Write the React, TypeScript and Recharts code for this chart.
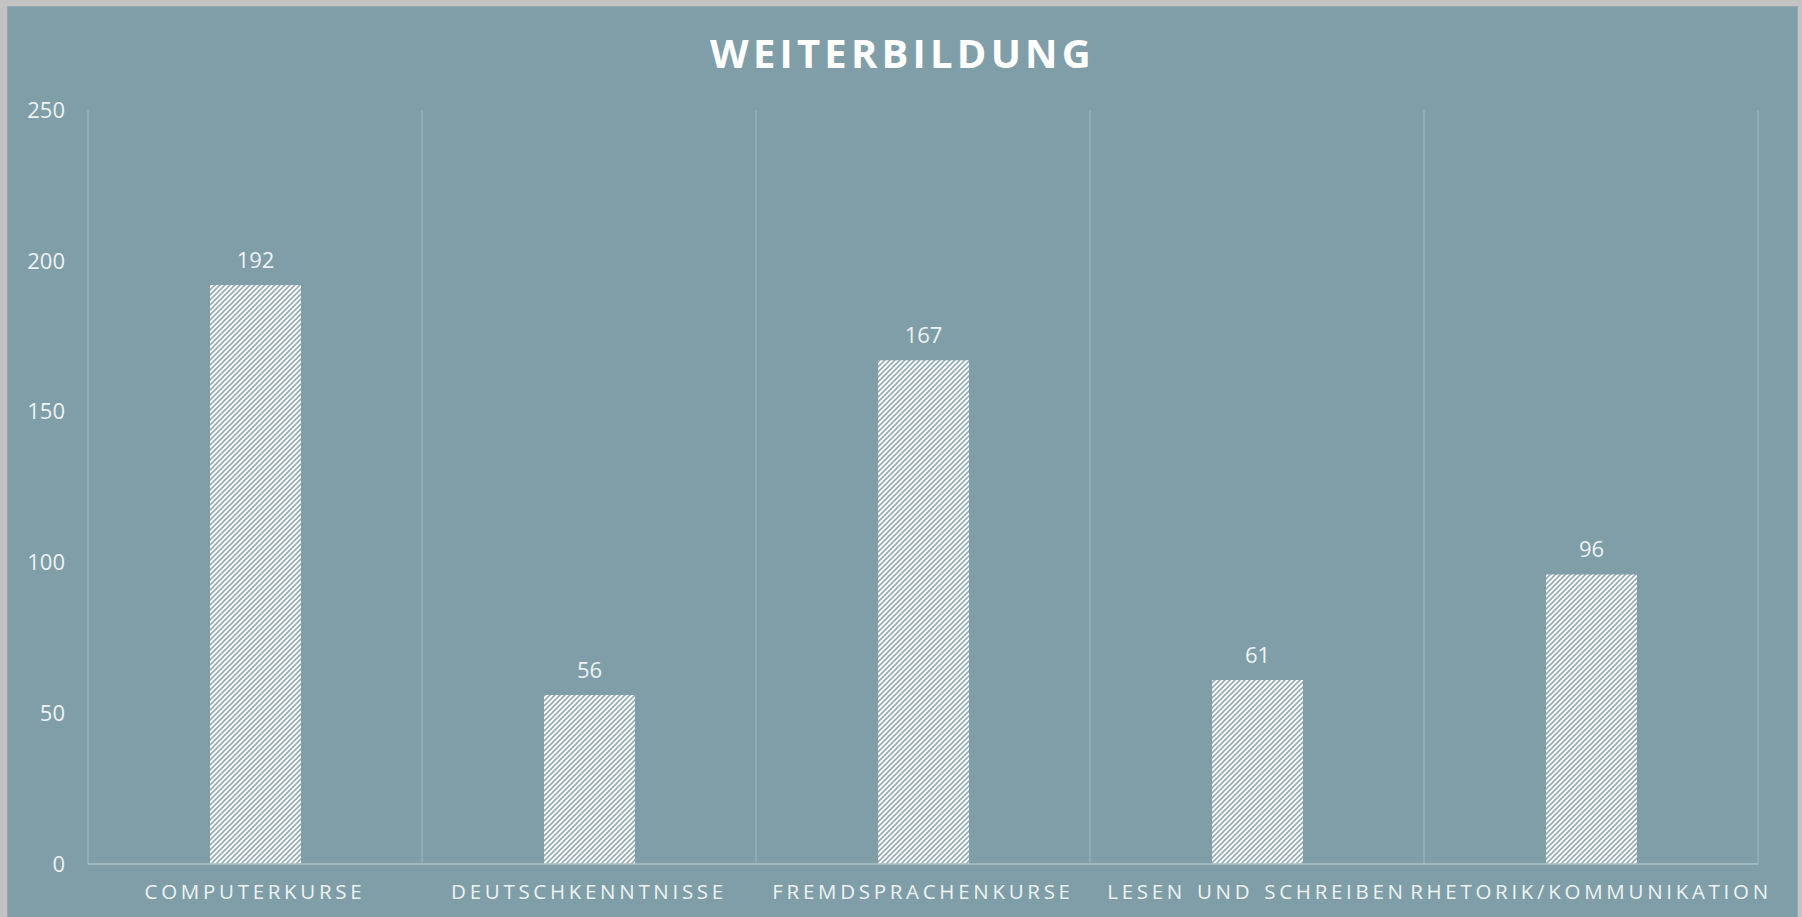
import { Bar, BarChart, CartesianGrid, LabelList, XAxis, YAxis } from "recharts";

const CATEGORIES = ["COMPUTERKURSE", "DEUTSCHKENNTNISSE", "FREMDSPRACHENKURSE", "LESEN UND SCHREIBEN", "RHETORIK/KOMMUNIKATION"];
const VALUES = [192, 56, 167, 61, 96];
const Y_TICKS = [0, 50, 100, 150, 200, 250];
const GRID_TICKS = [0, 1, 2, 3, 4, 5];

const BG = "#7f9ea8";
const FONT = "'Open Sans', 'Noto Sans', sans-serif";

const data = CATEGORIES.map((name, i) => ({ name, value: VALUES[i], idx: i + 0.5 }));

function CategoryTick(props: any) {
  const { x, y, payload } = props;
  return (
    <text x={x} y={y} dy={27} textAnchor="middle" fill="#eef3f4" fontSize={20.5} fontFamily={FONT} letterSpacing={3.7} wordSpacing={2}>
      {payload.value}
    </text>
  );
}

export default function App() {
  return (
    <div style={{ position: "fixed", inset: 0, background: "#c3c3c3" }}>
      <div style={{ position: "absolute", left: 8, top: 7, width: 1789, height: 910, background: BG, boxShadow: "0 0 0 1px #9aa9ae" }}>
        <div
          style={{
            position: "absolute",
            left: 0,
            right: 0,
            top: 21,
            textAlign: "center",
            color: "#ffffff",
            fontFamily: FONT,
            fontWeight: 700,
            fontSize: 40,
            letterSpacing: 4.2,
            lineHeight: "50px",
          }}
        >
          WEITERBILDUNG
        </div>
        <BarChart width={1789} height={910} data={data} margin={{ top: 103, right: 39, bottom: 0, left: 0 }}>
          <defs>
            <pattern id="hatch" patternUnits="userSpaceOnUse" width={5} height={5}>
              <rect width={5} height={5} fill="#ffffff" />
              <path d="M-1,1 l2,-2 M0,5 l5,-5 M4,6 l2,-2" stroke="#93acb4" strokeWidth={1.6} />
            </pattern>
          </defs>
          <CartesianGrid xAxisId="grid" horizontal={false} vertical stroke="#9fb8bf" strokeWidth={1} />
          <XAxis
            dataKey="name"
            interval={0}
            height={53}
            tickLine={false}
            axisLine={{ stroke: "#aac0c6", strokeWidth: 1.5 }}
            tick={<CategoryTick />}
          />
          <XAxis xAxisId="grid" type="number" dataKey="idx" domain={[0, 5]} ticks={GRID_TICKS} hide />
          <YAxis
            width={80}
            domain={[0, 250]}
            ticks={Y_TICKS}
            axisLine={false}
            tickLine={false}
            tickMargin={17}
            tick={{ fill: "#eef3f4", fontSize: 22, fontFamily: FONT }}
          />
          <Bar dataKey="value" fill="url(#hatch)" barSize={91} isAnimationActive={false}>
            <LabelList dataKey="value" position="top" offset={17} fill="#eef3f4" fontSize={22} fontFamily={FONT} />
          </Bar>
        </BarChart>
      </div>
    </div>
  );
}
